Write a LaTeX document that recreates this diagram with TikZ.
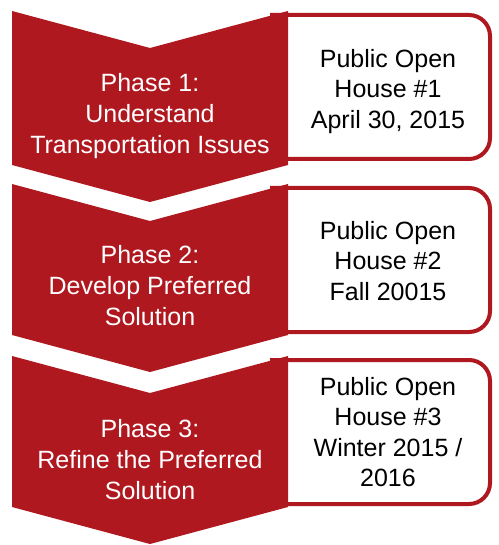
\documentclass[tikz,border=0pt]{standalone}
\usepackage{fontspec}
\setmainfont{Liberation Sans}
\definecolor{phasered}{RGB}{176,24,32}
\begin{document}
\begin{tikzpicture}[x=1pt,y=-1pt,
  chev/.style={fill=phasered,draw=none},
  housebox/.style={draw=phasered,line width=4pt,fill=white,rounded corners=21pt},
  phasetext/.style={anchor=north,inner sep=0pt,align=center,text=white,font=\fontsize{25}{31}\selectfont},
  housetext/.style={anchor=north,inner sep=0pt,align=center,text=black,font=\fontsize{25}{30.5}\selectfont}]
\useasboundingbox (0,0) rectangle (498,545);
% right boxes
\draw[housebox] (270,15) -- (490,15) -- (490,159) -- (270,159);
\draw[housebox] (270,188) -- (490,188) -- (490,332) -- (270,332);
\draw[housebox] (270,360) -- (490,360) -- (490,504) -- (270,504);
% chevrons
\fill[chev] (12,11) -- (150,48) -- (288,11) -- (288,165) -- (150,202) -- (12,165) -- cycle;
\fill[chev] (12,184) -- (150,221) -- (288,184) -- (288,335) -- (150,372) -- (12,335) -- cycle;
\fill[chev] (12,356) -- (150,393) -- (288,356) -- (288,507) -- (150,544) -- (12,507) -- cycle;
% texts
\node[phasetext] (p1) at (150,73) {Phase 1:\\Understand\\Transportation Issues};
\node[phasetext] (p2) at (150,245) {Phase 2:\\Develop Preferred\\Solution};
\node[phasetext] (p3) at (150,419) {Phase 3:\\Refine the Preferred\\Solution};
\node[housetext] (h1) at (388,49) {Public Open\\House \#1\\April 30, 2015};
\node[housetext] (h2) at (388,221) {Public Open\\House \#2\\Fall 20015};
\node[housetext] (h3) at (388,377) {Public Open\\House \#3\\Winter 2015 /\\2016};
\end{tikzpicture}
\end{document}
